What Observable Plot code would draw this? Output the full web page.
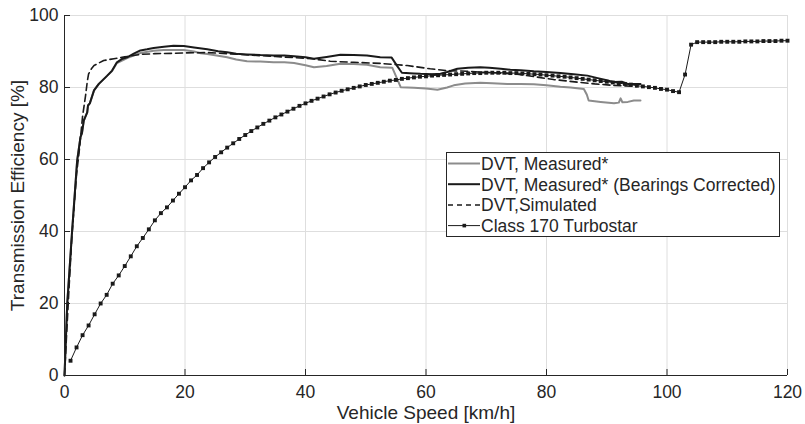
<!DOCTYPE html>
<html>
<head>
<meta charset="utf-8">
<script src="https://cdn.jsdelivr.net/npm/d3@7"></script>
<script src="https://cdn.jsdelivr.net/npm/@observablehq/plot@0.6"></script>
<style>
  body { margin: 0; background: #fff; }
  #wrap { position: relative; width: 805px; height: 424px; font-family: "Liberation Sans", Arial, Helvetica, sans-serif; }
  #legend { position: absolute; left: 446px; top: 152px; width: 334px; height: 85px; box-sizing: border-box; border: 1px solid #262626; background: #fff; }
  #legend svg { display: block; }
</style>
</head>
<body>
<div id="wrap"><div id="legend"></div></div>
<script>
// Axis ticks and titles
const xTicks = [0, 20, 40, 60, 80, 100, 120];
const yTicks = [0, 20, 40, 60, 80, 100];
const xTitle = "Vehicle Speed [km/h]";
const yTitle = "Transmission Efficiency [%]";

// Series names
const seriesNames = [
  "DVT, Measured*",
  "DVT, Measured* (Bearings Corrected)",
  "DVT,Simulated",
  "Class 170 Turbostar"
];

// DVT, measured (km/h, %)
const measuredSpeed = [0, 0.45, 1.27, 2.1, 2.65, 2.9, 3.2, 3.77, 3.9, 4.2, 4.9, 5.7, 6.0, 7.1, 7.9, 8.7, 10.4, 12.6, 14.8, 16.5, 18.4, 19.8, 21.5, 22.6, 23.7, 25.5, 27, 28.5, 30.3, 32.5, 34.7, 36.5, 38.1, 40, 41.4, 43.5, 45.8, 48, 50.2, 52.4, 54.4, 55.8, 58, 60, 61.9, 63.5, 64.6, 66.5, 69, 71, 73.5, 75.7, 77.9, 80, 82.3, 84, 86.2, 86.7, 87.0, 89, 91.2, 92.0, 92.3, 92.6, 93.5, 94.5, 95.6];
const measuredEff   = [0, 19.9, 40.3, 59.7, 66.2, 67.3, 70.8, 73.1, 75.0, 75.6, 79.2, 81.0, 81.5, 83.3, 84.6, 86.8, 88.2, 89.6, 90.2, 90.4, 90.4, 90.4, 90.0, 89.5, 89.3, 88.8, 88.4, 87.8, 87.3, 87.2, 87.0, 87.0, 86.8, 86.2, 85.6, 86.0, 86.6, 86.5, 86.3, 85.6, 85.5, 80.1, 79.9, 79.7, 79.4, 80.0, 80.6, 81.1, 81.3, 81.2, 81.0, 81.0, 80.9, 80.6, 80.2, 80.0, 79.6, 78.0, 76.4, 76.0, 75.6, 75.8, 77.0, 75.9, 76.0, 76.4, 76.4];

// DVT, measured with bearing losses corrected (km/h, %)
const correctedSpeed = [0, 0.45, 1.27, 2.1, 2.65, 2.9, 3.2, 3.77, 3.9, 4.2, 4.9, 5.7, 6.0, 7.1, 7.9, 8.7, 9.5, 10.4, 11.5, 12.6, 13.7, 14.8, 16.5, 18.1, 19.8, 21.5, 23.7, 25.5, 27, 28.5, 30.3, 32.5, 34.7, 36.5, 38.1, 40, 41.4, 43.5, 45.8, 48, 50.2, 52.4, 54.3, 55.2, 56.0, 58, 59.1, 61, 62.4, 63.5, 65.2, 67, 69, 70.5, 72.4, 74, 75.7, 77.9, 80, 82.3, 84.5, 86.8, 88.5, 90, 91.2, 92.5, 93.5, 95.6];
const correctedEff   = [0, 19.9, 40.3, 59.7, 66.2, 67.3, 70.8, 73.1, 75.0, 75.6, 79.2, 81.0, 81.5, 83.3, 84.7, 87.0, 87.9, 88.4, 89.4, 90.3, 90.6, 91.0, 91.3, 91.6, 91.5, 91.1, 90.6, 90.1, 89.8, 89.4, 89.2, 89.0, 88.9, 88.9, 88.7, 88.4, 88.0, 88.5, 89.1, 89.0, 88.9, 88.4, 88.3, 86.0, 84.1, 83.9, 83.8, 83.7, 83.8, 84.3, 85.2, 85.5, 85.6, 85.5, 85.2, 84.9, 84.8, 84.5, 84.3, 84.0, 83.7, 83.3, 82.6, 82.0, 81.5, 81.6, 81.0, 81.0];

// DVT, simulated (km/h, %)
const simSpeed = [0, 0.7, 1.2, 2.0, 2.4, 3.0, 3.5, 3.8, 4.0, 4.5, 4.9, 6.5, 8.2, 10, 12.6, 15, 18.1, 20, 23.7, 27, 30, 35, 38, 41, 44.1, 48, 52.4, 56.9, 60.7, 63.5, 66.8, 70, 74.6, 78, 81.2, 85.1, 88, 91, 95];
const simEff   = [0, 22.7, 38, 56, 61.6, 72, 77.8, 81.9, 83.8, 85.3, 86.1, 87.5, 88.0, 88.5, 89.2, 89.4, 89.5, 89.6, 89.7, 89.4, 89.1, 88.6, 88.3, 88.0, 87.3, 87.0, 86.7, 86.1, 85.2, 84.7, 84.5, 84.2, 83.8, 83.0, 82.2, 81.5, 81.0, 80.6, 80.3];

// Class 170 Turbostar, one reading per km/h (km/h, %)
const turbostarSpeed = d3.range(1, 121);
const turbostarEff = [
  4.1, 7.8, 11.2, 13.9, 17.0, 20.0, 22.4, 25.5, 27.8, 30.4,
  33.1, 35.9, 38.2, 40.6, 43.1, 45.1, 46.7, 48.6, 50.5, 52.3,
  54.2, 55.7, 57.6, 59.2, 60.7, 62.0, 63.3, 64.5, 65.7, 66.8,
  67.9, 68.9, 69.9, 70.8, 71.7, 72.5, 73.3, 74.1, 74.9, 75.6,
  76.3, 76.9, 77.5, 78.1, 78.6, 79.1, 79.5, 79.9, 80.3, 80.7,
  81.0, 81.3, 81.6, 81.9, 82.1, 82.4, 82.6, 82.8, 83.0, 83.1,
  83.3, 83.4, 83.5, 83.6, 83.7, 83.8, 83.9, 84.0, 84.0, 84.1,
  84.1, 84.1, 84.1, 84.0, 84.0, 83.9, 83.8, 83.7, 83.6, 83.4,
  83.3, 83.1, 83.0, 82.8, 82.6, 82.4, 82.2, 82.0, 81.8, 81.6,
  81.4, 81.2, 81.0, 80.8, 80.5, 80.3, 80.1, 79.9, 79.6, 79.4,
  79.0, 78.7, 83.6, 91.9, 92.6, 92.6, 92.6, 92.6, 92.7, 92.7,
  92.7, 92.7, 92.8, 92.8, 92.8, 92.9, 92.9, 92.9, 93.0, 93.0
];

const toRows = (xs, ys) => xs.map((s, i) => ({speed: s, eff: ys[i]}));
const measured = toRows(measuredSpeed, measuredEff);
const corrected = toRows(correctedSpeed, correctedEff);
const simulated = toRows(simSpeed, simEff);
const turbostar = toRows(turbostarSpeed, turbostarEff);

const ink = "#262626";
const grayLine = "#8c8c8c";
const darkLine = "#1a1a1a";
const font = '"Liberation Sans", Arial, Helvetica, sans-serif';

const chart = Plot.plot({
  width: 805,
  height: 424,
  marginLeft: 64,
  marginRight: 18,
  marginTop: 15,
  marginBottom: 49,
  style: {fontFamily: font, fontSize: "17.5px", color: ink, background: "#fff", overflow: "visible"},
  x: {domain: [0, 120], label: null},
  y: {domain: [0, 100], label: null},
  marks: [
    Plot.gridX(xTicks, {stroke: "#dedede", strokeOpacity: 1}),
    Plot.gridY(yTicks, {stroke: "#dedede", strokeOpacity: 1}),
    Plot.axisX(xTicks, {tickSize: 0, tickPadding: 10, fill: ink, fontSize: 17.5}),
    Plot.axisY(yTicks, {tickSize: 0, tickPadding: 6, fill: ink, fontSize: 17.5}),
    Plot.line(measured, {x: "speed", y: "eff", stroke: grayLine, strokeWidth: 2}),
    Plot.line(corrected, {x: "speed", y: "eff", stroke: darkLine, strokeWidth: 2}),
    Plot.line(simulated, {x: "speed", y: "eff", stroke: darkLine, strokeWidth: 1.6, strokeDasharray: "7,4"}),
    Plot.line(turbostar, {x: "speed", y: "eff", stroke: darkLine, strokeWidth: 1}),
    Plot.dot(turbostar, {x: "speed", y: "eff", symbol: "square", r: 2.2, fill: darkLine, stroke: "none"}),
    // inward tick marks and the two axis lines
    Plot.tickX(xTicks, {x: d => d, insetTop: 354, stroke: ink}),
    Plot.tickY(yTicks, {y: d => d, insetRight: 717, stroke: ink}),
    Plot.ruleY([0], {stroke: ink}),
    Plot.ruleX([0], {stroke: ink}),
    Plot.text([xTitle], {frameAnchor: "bottom", dy: 37, lineAnchor: "middle", textAnchor: "middle", fontSize: 19, fill: ink}),
    Plot.text([yTitle], {frameAnchor: "left", dx: -47, rotate: -90, lineAnchor: "middle", textAnchor: "middle", fontSize: 19, fill: ink})
  ]
});
document.getElementById("wrap").prepend(chart);

// Legend box
const legendStyles = [
  {stroke: grayLine, width: 2, dash: null, marker: false},
  {stroke: darkLine, width: 2, dash: null, marker: false},
  {stroke: darkLine, width: 1.5, dash: "5,4", marker: false},
  {stroke: darkLine, width: 1, dash: null, marker: true}
];
const lsvg = d3.select("#legend").append("svg").attr("width", 332).attr("height", 83);
seriesNames.forEach((name, i) => {
  const y = 10.5 + i * 20.7;
  const st = legendStyles[i];
  lsvg.append("line").attr("x1", 1).attr("x2", 33).attr("y1", y).attr("y2", y)
    .attr("stroke", st.stroke).attr("stroke-width", st.width)
    .attr("stroke-dasharray", st.dash);
  if (st.marker) lsvg.append("rect").attr("x", 15.5).attr("y", y - 1.8).attr("width", 3.6).attr("height", 3.6).attr("fill", darkLine);
  lsvg.append("text").attr("x", 34).attr("y", y).attr("dy", "0.36em")
    .attr("font-family", font).attr("font-size", 17.5).attr("fill", ink).text(name);
});
</script>
</body>
</html>
